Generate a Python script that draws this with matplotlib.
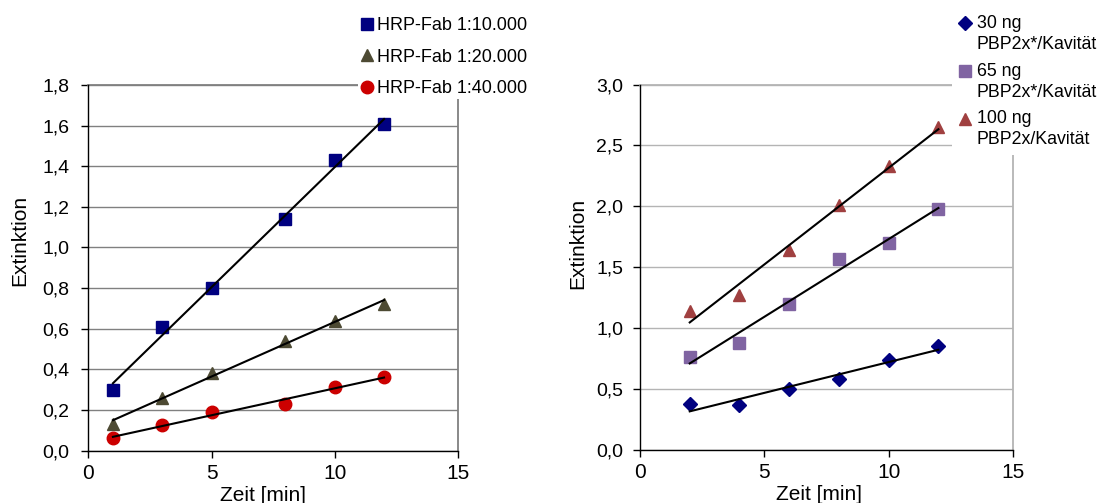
import numpy as np
import matplotlib
matplotlib.use("Agg")
import matplotlib.pyplot as plt
from matplotlib.ticker import FuncFormatter, MultipleLocator
from matplotlib.legend_handler import HandlerLine2D

plt.rcParams['font.family'] = ['Liberation Sans', 'DejaVu Sans']

# ---- data: left chart ----
x_left = [1, 3, 5, 8, 10, 12]
hrp_10000 = [0.30, 0.61, 0.80, 1.14, 1.43, 1.61]
hrp_20000 = [0.13, 0.26, 0.38, 0.54, 0.64, 0.72]
hrp_40000 = [0.06, 0.125, 0.19, 0.23, 0.315, 0.36]
labels_left = ["HRP-Fab 1:10.000", "HRP-Fab 1:20.000", "HRP-Fab 1:40.000"]

# ---- data: right chart ----
x_right = [2, 4, 6, 8, 10, 12]
ng30 = [0.38, 0.37, 0.50, 0.58, 0.74, 0.85]
ng65 = [0.76, 0.88, 1.20, 1.57, 1.70, 1.98]
ng100 = [1.14, 1.27, 1.64, 2.01, 2.33, 2.65]
labels_right = ["30 ng\nPBP2x*/Kavität", "65 ng\nPBP2x*/Kavität", "100 ng\nPBP2x/Kavität"]

x_ticks = [0, 5, 10, 15]
xlabel = "Zeit [min]"
ylabel = "Extinktion"

W, H = 1103, 503
fig = plt.figure(figsize=(W / 100, H / 100), dpi=100)

ax1 = fig.add_axes([88.3 / W, 1 - 450.5 / H, (458 - 88.3) / W, (450.5 - 85) / H])
ax2 = fig.add_axes([640 / W, 1 - 450 / H, (1013 - 640) / W, (450 - 84.5) / H])

comma = FuncFormatter(lambda v, p: f"{v:.1f}".replace('.', ','))


class UpHandler(HandlerLine2D):
    def __init__(self, shift, **kw):
        super().__init__(**kw)
        self.shift = shift

    def create_artists(self, legend, orig_handle, xdescent, ydescent, width,
                       height, fontsize, trans):
        arts = super().create_artists(legend, orig_handle, xdescent, ydescent,
                                      width, height, fontsize, trans)
        for a in arts:
            a.set_ydata(np.asarray(a.get_ydata()) + self.shift * fontsize)
        return arts


def style(ax, ymax, ystep, gridc, ypad):
    ax.set_xlim(0, 15)
    ax.set_ylim(0, ymax)
    ax.set_xticks(x_ticks)
    ax.yaxis.set_major_locator(MultipleLocator(ystep))
    ax.yaxis.set_major_formatter(comma)
    ax.tick_params(axis='both', length=5, width=1, color='black')
    ax.tick_params(axis='y', pad=ypad, labelsize=14)
    ax.tick_params(axis='x', pad=4.5, labelsize=15)
    ax.grid(axis='y', color=gridc, linewidth=1)
    ax.set_axisbelow(True)
    for s in ['left', 'bottom']:
        ax.spines[s].set_color('black')
        ax.spines[s].set_linewidth(1)
        ax.spines[s].set_zorder(3)
    for s in ['top', 'right']:
        ax.spines[s].set_color(gridc)
        ax.spines[s].set_linewidth(1.3)


def fitline(ax, x, y):
    c = np.polyfit(x, y, 1)
    xx = np.array([min(x), max(x)])
    ax.plot(xx, np.polyval(c, xx), color='black', lw=1.5, zorder=4)


# ---- left chart ----
style(ax1, 1.8, 0.2, '#808080', 8.5)
h1, = ax1.plot(x_left, hrp_10000, 's', color='#000080', ms=9, ls='none', label=labels_left[0], zorder=3)
h2, = ax1.plot(x_left, hrp_20000, '^', color='#4D4A33', ms=9, ls='none', label=labels_left[1], zorder=3)
h3, = ax1.plot(x_left, hrp_40000, 'o', color='#CC0000', ms=9, ls='none', label=labels_left[2], zorder=3)
for y in (hrp_10000, hrp_20000, hrp_40000):
    fitline(ax1, x_left, y)
ax1.set_xlabel(xlabel, fontsize=15, va='baseline')
ax1.xaxis.set_label_coords(0.4725, -0.137)
ax1.set_ylabel(ylabel, fontsize=15, va='center')
ax1.yaxis.set_label_coords((20 - 88.3) / (458 - 88.3), 0.576)

leg1 = ax1.legend(handles=[h1, h2, h3], loc='upper left',
                  bbox_to_anchor=(358 / W, 1 - 15 / H), bbox_transform=fig.transFigure,
                  prop={'size': 13}, frameon=True, facecolor='white', edgecolor='white',
                  framealpha=1, fancybox=False, handlelength=0.7, handletextpad=0.2,
                  labelspacing=0.79, borderpad=0.13, borderaxespad=0)
leg1.get_frame().set_linewidth(0)
leg1.set_zorder(10)

# ---- right chart ----
style(ax2, 3.0, 0.5, '#B4B4B4', 7)
g1, = ax2.plot(x_right, ng30, 'D', color='#000080', ms=7, ls='none', label=labels_right[0], zorder=3)
g2, = ax2.plot(x_right, ng65, 's', color='#8064A2', ms=8.8, ls='none', label=labels_right[1], zorder=3)
g3, = ax2.plot(x_right, ng100, '^', color='#A04040', ms=9, ls='none', label=labels_right[2], zorder=3)
for y in (ng30, ng65, ng100):
    fitline(ax2, x_right, y)
ax2.set_xlabel(xlabel, fontsize=15, va='baseline')
ax2.xaxis.set_label_coords(0.481, -0.137)
ax2.set_ylabel(ylabel, fontsize=15, va='center')
ax2.yaxis.set_label_coords((577.4 - 640) / (1013 - 640), 0.564)

hm = {h: UpHandler(0.62) for h in (g1, g2, g3)}
leg2 = ax2.legend(handles=[g1, g2, g3], loc='upper left',
                  bbox_to_anchor=(952 / W, 1 - 8 / H), bbox_transform=fig.transFigure,
                  prop={'size': 12.8}, frameon=True, facecolor='white', edgecolor='white',
                  framealpha=1, fancybox=False, handlelength=0.7, handletextpad=0.31,
                  labelspacing=0.56, borderpad=0.38, borderaxespad=0, handler_map=hm)
leg2.get_frame().set_linewidth(0)
for t in leg2.get_texts():
    t.set_linespacing(1.3)
leg2.set_zorder(10)

fig.savefig("out.png", dpi=100)
